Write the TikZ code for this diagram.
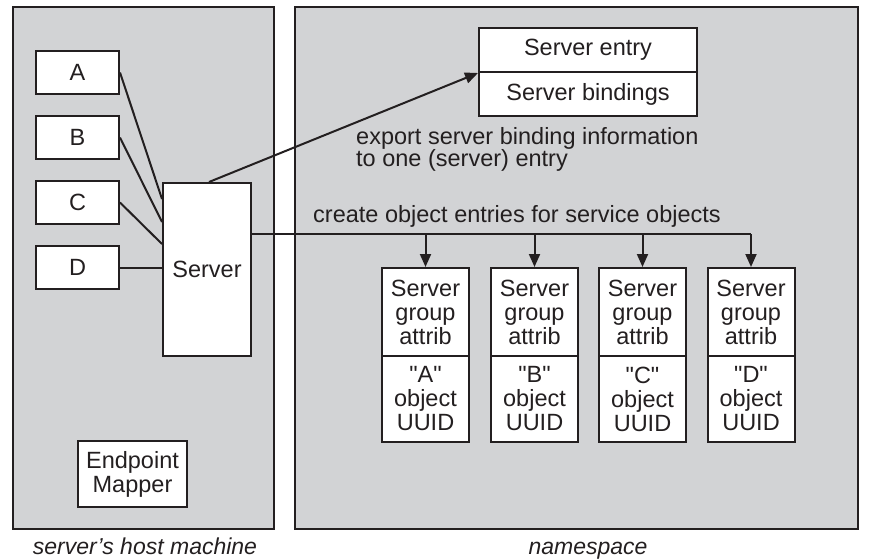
\documentclass[tikz,border=0pt]{standalone}
\usepackage{fontspec}
\setmainfont{Liberation Sans}
\usetikzlibrary{arrows.meta,calc}
\definecolor{panelgray}{RGB}{210,211,213}
\definecolor{ink}{RGB}{35,31,32}
\tikzset{
  panel/.style={draw=ink,fill=panelgray,line width=2pt},
  box/.style={draw=ink,fill=white,line width=2pt,inner sep=0pt,align=center,
    font=\fontsize{23.5}{24}\selectfont,text=ink},
  wire/.style={draw=ink,line width=2pt},
  arr/.style={wire,-{Triangle[length=13pt,width=11pt]}},
  lbl/.style={inner sep=0pt,font=\fontsize{23.5}{22}\selectfont,text=ink,align=left},
  captext/.style={inner sep=0pt,font=\fontsize{23}{24}\selectfont\itshape,text=ink}
}
\begin{document}
\begin{tikzpicture}[x=1pt,y=-1pt]
\useasboundingbox (0,0) rectangle (870,559);
% panels
\draw[panel] (13,7) rectangle (274,529);
\draw[panel] (295,7) rectangle (858,529);
% left side boxes
\node[box,minimum width=83pt,minimum height=43pt] (a) at (77.5,72.5) {A};
\node[box,minimum width=83pt,minimum height=43pt] (b) at (77.5,137.5) {B};
\node[box,minimum width=83pt,minimum height=43pt] (c) at (77.5,202.5) {C};
\node[box,minimum width=83pt,minimum height=43pt] (d) at (77.5,267.5) {D};
\node[box,minimum width=88pt,minimum height=173pt] (srv) at (207,269.5) {Server};
\node[box,minimum width=109pt,minimum height=66pt] (epm) at (132.5,474) {Endpoint\\Mapper};
% server entry
\node[box,minimum width=218pt,minimum height=44pt] (se) at (588,50) {Server entry};
\node[box,minimum width=218pt,minimum height=44pt] (sb) at (588,94) {Server bindings};
% object boxes
\foreach \n/\x/\l in {o1/425.5/A,o2/534.5/B,o3/642.5/C,o4/751/D}{
  \node[box,minimum width=87pt,minimum height=88pt] (\n) at (\x,312) {Server\\group\\attrib};
  \node[box,minimum width=87pt,minimum height=86pt] (\n u) at (\x,399) {\textquotedbl\l\textquotedbl\\object\\UUID};
}
% labels
\node[lbl,anchor=base west] (exp1) at (356,145) {export server binding information};
\node[lbl,anchor=base west] (exp2) at (356,167) {to one (server) entry};
\node[lbl,anchor=base west] (crt) at (313,222) {create object entries for service objects};
\node[captext,anchor=base] (hostcap) at (145,554) {server's host machine};
\node[captext,anchor=base] (nscap) at (588,554) {namespace};
% connectors A-D to server
\coordinate (ea) at ($(srv.north west)+(0,17)$);
\coordinate (eb) at ($(srv.north west)+(0,40)$);
\coordinate (ec) at ($(srv.north west)+(0,62)$);
\draw[wire] (a.east) -- (ea);
\draw[wire] (b.east) -- (eb);
\draw[wire] (c.east) -- (ec);
\draw[wire] (d.east) -- (d.east -| srv.west);
% export arrow
\draw[arr] ($(srv.north)+(2,0)$) -- (se.south west);
% bus
\coordinate (bus) at ($(srv.north east)+(0,52)$);
\draw[wire] (bus) -- (bus -| o4.north);
\foreach \n in {o1,o2,o3,o4}{
  \draw[arr] (bus -| \n.north) -- (\n.north);
}
\end{tikzpicture}
\end{document}
